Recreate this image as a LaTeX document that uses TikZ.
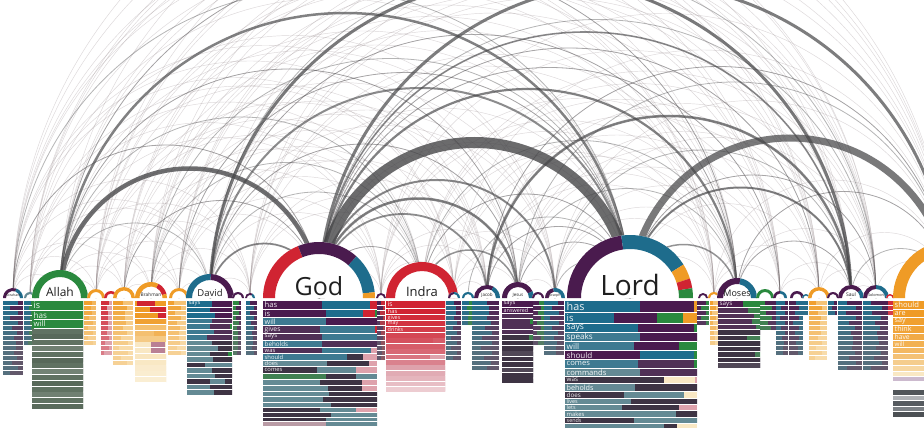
\documentclass[tikz,border=0pt]{standalone}
\usepackage{fontspec}
\setmainfont{Open Sans}
\usetikzlibrary{calc}

\definecolor{qgreen}{RGB}{42,137,62}
\definecolor{agreen}{RGB}{96,114,98}
\definecolor{bpurple}{RGB}{74,27,78}
\definecolor{mpurple}{RGB}{80,48,86}
\definecolor{dpurple}{RGB}{62,52,68}
\definecolor{bteal}{RGB}{30,108,140}
\definecolor{mteal}{RGB}{62,122,145}
\definecolor{gteal}{RGB}{100,138,148}
\definecolor{vred}{RGB}{208,36,50}
\definecolor{rose}{RGB}{222,162,172}
\definecolor{gorange}{RGB}{239,155,38}
\definecolor{lorange}{RGB}{244,192,112}
\definecolor{cream}{RGB}{249,232,196}
\definecolor{lavender}{RGB}{204,186,206}
\definecolor{fadegray}{RGB}{108,114,120}
\definecolor{arcgray}{RGB}{70,70,72}
\definecolor{thingray}{RGB}{140,126,128}

\tikzset{
  faint/.style={draw=thingray, line width=0.45pt, opacity=0.3},
  link/.style={draw=arcgray, opacity=0.4, line width=0.8pt},
  heavy/.style={draw=arcgray},
  person/.style={anchor=base, inner sep=0pt, text=black!88},
  verb/.style={anchor=west, inner sep=0pt, text=white, opacity=0.92},
}

% half ring: #1 centre, #2 outer radius, #3 thickness, #4 start/end/colour
\newcommand{\ring}[4]{%
  \fill[white] ([shift={(#1)}]180:#2) arc[start angle=180, end angle=0, radius=#2] -- cycle;
  \foreach \aa/\ab/\rc in {#4}{
    \fill[fill=\rc] ([shift={(#1)}]\aa:#2) arc[start angle=\aa, end angle=\ab, radius=#2]
      -- ([shift={(#1)}]\ab:{#2-#3}) arc[start angle=\ab, end angle=\aa, radius={#2-#3}] -- cycle;
  }
}

% column of verbs: height/label/colour/split/colour/split/colour
\newcommand{\verbcol}[4]{%
  \xdef\rowtop{131}
  \foreach \h/\lbl/\ca/\fa/\cb/\fb/\cc [count=\i] in {#4}{
    \pgfmathsetmacro\rowbot{\rowtop-\h}
    \pgfmathsetmacro\fs{0.9*\h}
    \fill[fill=\ca] (#2,\rowtop) rectangle ({#2+\fa*#3},\rowbot+0.7);
    \fill[fill=\cb] ({#2+\fa*#3},\rowtop) rectangle ({#2+\fb*#3},\rowbot+0.7);
    \fill[fill=\cc] ({#2+\fb*#3},\rowtop) rectangle ({#2+#3},\rowbot+0.7);
    \node[verb, font=\fontsize{\fs}{\fs}\selectfont] (#1-\i) at (#2+1.5,{\rowbot+0.3+0.5*\h}) {\lbl};
    \xdef\rowtop{\rowbot}
  }
}

% narrow column without labels
\newcommand{\minicol}[6]{%
  \foreach \i in {1,...,#3}{
    \pgfmathsetmacro\rt{131-(\i-1)*5}
    \pgfmathsetmacro\cut{0.3+0.45*abs(sin(\i*83+#1*7))}
    \pgfmathtruncatemacro\fd{max(100-\i*7,30)}
    \fill[fill=#4!\fd!#6] (#1,\rt) rectangle ({#1+\cut*#2},\rt-4.3);
    \fill[fill=#5!\fd!#6] ({#1+\cut*#2},\rt) rectangle ({#1+#2},\rt-4.3);
  }
}

\begin{document}
\begin{tikzpicture}[x=1pt, y=1pt]
  \fill[white] (0,0) rectangle (924,432);
  \useasboundingbox (0,0) rectangle (924,432);

  \foreach \nm/\cx in {abraham/13, m1/30, allah/60, m2/96, m3/111, m4/124, brahman/151,
      m5/179, david/210, m6/238, m7/250, god/319, m8/381, indra/422, m9/454, m10/468,
      jacob/487, jesus/518, m11/538, joseph/555, lord/630, m12/703, m13/714, moses/737,
      m14/765, m15/780, m16/797, m17/806, m18/819, m19/833, saul/851, solomon/876,
      m20/890, far/950}
    \coordinate (\nm) at (\cx,134);

  % thin threads between all speakers
  \def\speakers{abraham,m1,allah,m2,m4,brahman,m5,david,m7,god,m8,indra,m9,jacob,jesus,joseph,lord,m13,moses,m15,m18,saul,solomon,far}
  \foreach \na [count=\i] in \speakers {
    \foreach \nb [count=\j] in \speakers {
      \pgfmathtruncatemacro\keep{mod(\i*7+\j*11,5)}
      \ifnum\j>\i\relax\ifnum\keep<3\relax
        \draw[faint] let \p1=(\na), \p2=(\nb) in (\p1) arc[start angle=180, end angle=0, radius={0.5*(\x2-\x1)}];
      \fi\fi
    }
  }

  \foreach \na/\nb in {allah/david, allah/indra, allah/jesus, allah/moses, brahman/indra,
      brahman/lord, david/indra, david/jesus, david/moses, god/indra, god/m18, indra/moses,
      jesus/lord, jesus/moses, jacob/lord, joseph/lord, lord/solomon, moses/saul, moses/far,
      saul/far, m4/god, m5/lord, god/m15, m10/lord, abraham/god, abraham/lord, indra/lord,
      joseph/saul, jesus/far, jacob/far, david/solomon, god/solomon}
    \draw[link] let \p1=(\na), \p2=(\nb) in (\p1) arc[start angle=180, end angle=0, radius={0.5*(\x2-\x1)}];

  \foreach \na/\nb/\wd/\op in {god/lord/11/0.8, lord/far/7/0.72, allah/god/4.5/0.78,
      david/saul/3/0.72, god/far/3/0.7, allah/lord/2.5/0.68, jacob/saul/2.5/0.68,
      god/moses/2.2/0.68, god/jesus/2.5/0.68, god/joseph/2/0.62, god/jacob/1.8/0.62,
      david/lord/2/0.62, lord/saul/2/0.68, god/saul/1.6/0.62, david/god/1.8/0.62,
      lord/moses/1.5/0.58, indra/jesus/1.5/0.58}
    \draw[heavy, line width=\wd, opacity=\op] let \p1=(\na), \p2=(\nb) in (\p1) arc[start angle=180, end angle=0, radius={0.5*(\x2-\x1)}];

  % speakers
  \ring{abraham}{10}{3}{180/70/bpurple,70/0/bteal}
  \ring{m1}{6}{2}{180/0/gteal}
  \ring{allah}{28}{7}{180/0/qgreen}
  \ring{m2}{9}{3}{180/0/gorange}
  \ring{m3}{7}{2.5}{180/0/vred}
  \ring{m4}{11}{3.5}{180/0/gorange}
  \ring{brahman}{16}{4.5}{180/62/gorange,62/15/vred,15/0/gorange}
  \ring{m5}{10}{3}{180/0/gorange}
  \ring{david}{24}{6}{180/88/bteal,88/0/bpurple}
  \ring{m6}{6}{2}{180/0/bpurple}
  \ring{m7}{5}{2}{180/60/bpurple,60/0/bteal}
  \ring{god}{56}{12}{180/112/vred,112/48/bpurple,48/6/bteal,6/0/gorange}
  \ring{m8}{5}{2}{180/0/bpurple}
  \ring{indra}{36}{9}{180/0/vred}
  \ring{m9}{6}{2}{180/90/bpurple,90/0/bteal}
  \ring{m10}{6}{2}{180/0/bteal}
  \ring{jacob}{13}{4}{180/60/bpurple,60/0/bteal}
  \ring{jesus}{16}{5}{180/25/bpurple,25/0/bteal}
  \ring{m11}{6}{2}{180/0/bpurple}
  \ring{joseph}{10}{3.5}{180/100/bpurple,100/0/bteal}
  \ring{lord}{63}{14}{180/98/bpurple,98/32/bteal,32/18/gorange,18/9/vred,9/0/qgreen}
  \ring{m12}{5}{2}{180/0/bpurple}
  \ring{m13}{6}{2}{180/0/gorange}
  \ring{moses}{20}{6}{180/80/bpurple,80/0/bteal}
  \ring{m14}{9}{3}{180/0/qgreen}
  \ring{m15}{7}{2.5}{180/90/bpurple,90/0/bteal}
  \ring{m16}{7}{2.5}{180/0/bpurple}
  \ring{m17}{4}{1.5}{180/0/bteal}
  \ring{m18}{11}{3.5}{180/0/gorange}
  \ring{m19}{6}{2}{180/0/bpurple}
  \ring{saul}{13}{4}{180/40/bpurple,40/0/bteal}
  \ring{solomon}{13}{4}{180/90/bpurple,90/0/bteal}
  \ring{m20}{4}{1.5}{180/0/vred}
  \ring{far}{57}{12}{180/0/gorange}

  \node[person, font=\fontsize{3.5}{4}\selectfont] (abraham-name) at ([yshift=1.5]abraham) {Abraham};
  \node[person, font=\fontsize{12}{12}\selectfont] (allah-name) at ([yshift=2]allah) {Allah};
  \node[person, font=\fontsize{4.8}{5}\selectfont] (brahman-name) at ([yshift=1.5]brahman) {Brahman};
  \node[person, font=\fontsize{9.5}{10}\selectfont] (david-name) at ([yshift=2]david) {David};
  \node[person, font=\fontsize{25}{25}\selectfont] (god-name) at ([yshift=2.5]god) {God};
  \node[person, font=\fontsize{13}{13}\selectfont] (indra-name) at ([yshift=2]indra) {Indra};
  \node[person, font=\fontsize{4.5}{5}\selectfont] (jacob-name) at ([yshift=1.5]jacob) {Jacob};
  \node[person, font=\fontsize{4.5}{5}\selectfont] (jesus-name) at ([yshift=1.5]jesus) {Jesus};
  \node[person, font=\fontsize{3.5}{4}\selectfont] (joseph-name) at ([yshift=1.5]joseph) {Joseph};
  \node[person, font=\fontsize{28}{28}\selectfont] (lord-name) at ([yshift=2.5]lord) {Lord};
  \node[person, font=\fontsize{9}{9}\selectfont] (moses-name) at ([yshift=2]moses) {Moses};
  \node[person, font=\fontsize{5}{5}\selectfont] (saul-name) at ([yshift=1.5]saul) {Saul};
  \node[person, font=\fontsize{3.8}{4}\selectfont] (solomon-name) at ([yshift=1.5]solomon) {Solomon};

  % verb columns
  \minicol{3}{20}{15}{bteal}{bpurple}{fadegray}
  \minicol{24}{10}{9}{bteal}{qgreen}{fadegray}
  \verbcol{allahcol}{32}{51}{10/is/qgreen/1/qgreen/1/qgreen, 9/has/qgreen/1/qgreen/1/qgreen,
    8.5/will/qgreen/1/qgreen/1/qgreen, 5.8//agreen/1/agreen/1/agreen, 5.8//agreen!92!black/1/agreen/1/agreen,
    5.8//agreen/1/agreen/1/agreen, 5.8//agreen!90!white/1/agreen/1/agreen, 5.8//agreen/1/agreen/1/agreen,
    5.8//agreen!92!black/1/agreen/1/agreen, 5.8//agreen/1/agreen/1/agreen, 5.8//agreen!88!white/1/agreen/1/agreen,
    5.8//agreen/1/agreen/1/agreen, 5.8//agreen!92!black/1/agreen/1/agreen, 5.8//agreen/1/agreen/1/agreen,
    5.8//agreen!90!white/1/agreen/1/agreen, 5.8//agreen/1/agreen/1/agreen, 5.8//agreen!94!black/1/agreen/1/agreen}
  \minicol{84}{12}{9}{gorange}{gorange!70!cream}{cream}
  \minicol{101}{11}{11}{vred}{rose}{rose}
  \minicol{113}{20}{13}{gorange}{lorange}{cream}
  \verbcol{brahmancol}{135}{31}{6//gorange/0.05/vred/0.66/gorange, 6//gorange/0.47/vred/1/vred,
    6//gorange/0.74/vred/1/vred, 5.8//gorange!92!cream/1/gorange/1/gorange, 5.8//lorange/1/lorange/1/lorange,
    5.8//lorange/0.6/gorange!70!cream/1/cream, 5.8//lorange!75!cream/1/cream/1/cream,
    5.8//cream/0.53/rose!75!bpurple/0.98/cream, 5.8//cream/0.53/rose!75!bpurple/0.98/cream,
    5.8//cream!95!lorange/1/cream/1/cream, 5.8//cream/1/cream/1/cream, 5.8//cream!85!white/1/cream/1/cream,
    5.8//cream!80!white/1/cream/1/cream, 5.8//cream!75!white/1/cream/1/cream}
  \minicol{168}{18}{11}{gorange}{lorange}{cream}
  \verbcol{davidcol}{187}{45}{6.5/says/bteal/0.55/bpurple/1/bpurple, 5.5//bteal/0.5/bpurple/1/bpurple,
    5.5//bteal/0.62/bpurple/1/bpurple, 5.5//mteal/0.55/mpurple/1/mpurple, 5.5//mteal/0.5/mpurple/0.95/qgreen,
    5.5//mteal/0.6/mpurple/1/mpurple, 5.5//mteal/0.45/mpurple/1/mpurple, 5.5//gteal/0.55/dpurple/1/dpurple,
    5.5//gteal/0.68/dpurple/1/dpurple, 5.5//gteal/0.5/dpurple/0.9/qgreen, 5.5//gteal/0.58/dpurple/1/dpurple,
    5.5//dpurple/0.4/gteal/1/gteal, 5.5//gteal/0.55/dpurple/1/dpurple, 5.5//gteal/0.62/dpurple/1/dpurple,
    5.5//dpurple/0.5/gteal/0.85/dpurple, 5.5//gteal/0.5/dpurple/1/dpurple, 5.5//gteal/0.6/dpurple/1/dpurple}
  \minicol{233}{8}{11}{qgreen}{bpurple}{fadegray}
  \minicol{246}{11}{11}{bteal}{bpurple}{fadegray}
  \verbcol{godcol}{263}{114}{8.5/has/bpurple/0.52/bteal/0.94/vred, 8.5/is/bpurple/0.55/bteal/0.88/vred,
    8/will/mteal/0.55/bpurple/1/bpurple, 7.5/gives/mpurple/0.5/mteal/0.98/vred,
    7/says/mpurple/0.52/mteal/1/mteal, 7/beholds/mteal/0.52/mpurple/1/mpurple,
    6.5/was/mpurple/0.52/mteal/0.95/rose, 6.5/should/mteal/0.74/dpurple/0.88/rose,
    6.5/does/gteal/0.56/dpurple/0.93/rose, 6.5/comes/dpurple/0.47/gteal/0.82/rose,
    6//qgreen!65!fadegray/0.55/dpurple/0.82/gteal, 6//gteal/0.5/dpurple/0.87/rose,
    6//gteal/0.57/dpurple/0.87/rose, 5.5//gteal/0.58/dpurple/1/dpurple, 5.5//gteal/0.53/dpurple/1/dpurple,
    5//gteal/0.6/dpurple/1/dpurple, 5//dpurple/0.5/gteal/0.82/rose, 5//dpurple/0.6/gteal/1/gteal,
    4.5//dpurple/0.55/gteal/1/gteal, 4.5//rose!70!gteal/0.55/gteal/1/gteal}
  \fill[qgreen] (374.7,122.5) rectangle (377,114.7);
  \minicol{377}{8}{12}{bpurple}{vred}{fadegray}
  \verbcol{indracol}{386}{59}{7.5/is/vred/1/vred/1/vred, 6.5/has/vred/1/vred/1/vred,
    6/gives/vred!94!rose/1/vred/1/vred, 6/may/vred!88!rose/1/vred/1/vred, 6/drinks/vred!80!rose/1/vred/1/vred,
    5.4//vred!72!rose/1/vred/1/vred, 5.4//vred!64!rose/0.8/vred!55!rose/1/vred, 5.4//vred!55!rose/1/vred/1/vred,
    5.4//vred!45!rose/1/vred/1/vred, 5.4//vred!35!rose/0.75/rose/1/rose, 5.4//vred!25!rose/1/rose/1/rose,
    5.4//rose/1/rose/1/rose, 5.4//rose!90!white/1/rose/1/rose, 5.4//rose!80!white/1/rose/1/rose,
    5.4//rose!70!white/1/rose/1/rose, 5.4//rose!55!white/1/rose/1/rose}
  \minicol{446}{15}{12}{bteal}{bpurple}{fadegray}
  \minicol{462}{10}{5}{bteal}{qgreen}{fadegray}
  \minicol{472}{27}{14}{bteal}{bpurple}{fadegray}
  \verbcol{jesuscol}{502}{31}{6.5/says/bpurple/1/bpurple/1/bpurple, 6/answered/bpurple/1/bpurple/1/bpurple,
    5.4//mpurple/1/mpurple/1/mpurple, 5.4//mpurple/0.9/qgreen/1/qgreen, 5.4//mpurple/1/mpurple/1/mpurple,
    5.4//mpurple/1/mpurple/1/mpurple, 5.4//dpurple/0.88/qgreen!70!fadegray/1/qgreen, 5.4//dpurple/1/dpurple/1/dpurple,
    5.4//dpurple/1/dpurple/1/dpurple, 5.4//dpurple!90!white/1/dpurple/1/dpurple, 5.4//dpurple/1/dpurple/1/dpurple,
    5.4//dpurple/1/dpurple/1/dpurple, 5.4//dpurple!90!white/1/dpurple/1/dpurple, 5.4//dpurple/1/dpurple/1/dpurple,
    5.4//dpurple/1/dpurple/1/dpurple}
  \minicol{533}{11}{9}{bpurple}{qgreen}{fadegray}
  \minicol{544}{20}{11}{bteal}{bpurple}{fadegray}
  \verbcol{lordcol}{565}{132}{12/has/bteal/0.57/bpurple/0.975/gorange, 10.5/is/bteal/0.37/bpurple/0.70/qgreen,
    9.5/says/bteal/0.55/bpurple/0.975/qgreen, 9/speaks/mteal/0.57/bpurple/1/bpurple,
    9/will/mteal/0.52/bpurple/0.86/qgreen, 9/should/bpurple/0.57/bteal/0.975/qgreen,
    8.5/comes/mteal/0.55/mpurple/0.975/qgreen, 8.5/commands/gteal/0.57/mpurple/1/mpurple,
    7/was/dpurple/0.75/cream/0.985/rose, 8/beholds/gteal/0.53/dpurple/1/dpurple,
    7/does/dpurple/0.45/gteal/0.9/cream, 6/lives/gteal/0.5/dpurple/1/dpurple,
    6/lets/gteal/0.43/dpurple/0.86/rose, 6.5/makes/gteal/0.84/dpurple/1/dpurple,
    6/sends/dpurple/0.52/gteal/1/gteal, 5//gteal/0.75/dpurple/0.85/cream}
  \fill[gorange] (682.5,119) rectangle (697,109.2);
  \minicol{697}{12}{5}{bpurple}{qgreen}{fadegray}
  \minicol{710}{8}{9}{gorange}{lorange}{cream}
  \verbcol{mosescol}{718}{42}{7/says/bpurple/0.6/qgreen/1/qgreen, 5.5//mpurple/0.72/qgreen!75!fadegray/1/qgreen,
    5.5//mpurple/0.85/qgreen!70!fadegray/1/qgreen, 5.5//mpurple/0.8/qgreen!70!fadegray/1/qgreen,
    5.5//mpurple/0.9/qgreen!65!fadegray/1/qgreen, 5.5//dpurple/1/dpurple/1/dpurple,
    5.5//dpurple/0.7/qgreen!60!fadegray/1/qgreen, 5.5//dpurple/1/dpurple/1/dpurple,
    5.5//dpurple/1/dpurple/1/dpurple, 5.5//dpurple/0.88/qgreen!55!fadegray/1/qgreen,
    5.5//dpurple/1/dpurple/1/dpurple, 5.5//dpurple!90!white/1/dpurple/1/dpurple}
  \minicol{760}{16}{6}{qgreen}{bpurple}{fadegray}
  \minicol{776}{12}{11}{bteal}{bpurple}{fadegray}
  \minicol{789}{14}{11}{bpurple}{bteal}{fadegray}
  \minicol{803}{5}{3}{bteal}{bteal}{fadegray}
  \minicol{809}{18}{12}{gorange}{lorange}{cream}
  \minicol{828}{9}{3}{bteal}{bpurple}{fadegray}
  \minicol{838}{24}{14}{bteal}{bpurple}{fadegray}
  \minicol{863}{25}{14}{bteal}{bpurple}{fadegray}
  \minicol{888}{5}{3}{vred}{vred}{rose}
  \verbcol{farcol}{893}{40}{8.5/should/gorange/1/gorange/1/gorange, 8/are/gorange/1/gorange/1/gorange,
    8/say/gorange!94!cream/1/gorange/1/gorange, 8/think/gorange!88!cream/1/gorange/1/gorange,
    7.5/have/gorange!80!cream/1/gorange/1/gorange, 7/will/gorange!72!cream/1/gorange/1/gorange,
    6//gorange!62!cream/1/cream/1/cream, 6//gorange!50!cream/1/cream/1/cream,
    6//gorange!35!cream/1/cream/1/cream, 6//gorange!22!cream/1/cream/1/cream,
    5//cream/1/cream/1/cream, 5//lavender/1/lavender/1/lavender, 8//white/1/white/1/white,
    5.5//fadegray!75!black/1/fadegray/1/fadegray, 5.5//fadegray!55!white/1/fadegray/1/fadegray,
    5.5//fadegray!80!black/1/fadegray/1/fadegray, 5.5//fadegray!90!white/1/fadegray/1/fadegray,
    5.5//fadegray!70!black/1/fadegray/1/fadegray}
\end{tikzpicture}
\end{document}
